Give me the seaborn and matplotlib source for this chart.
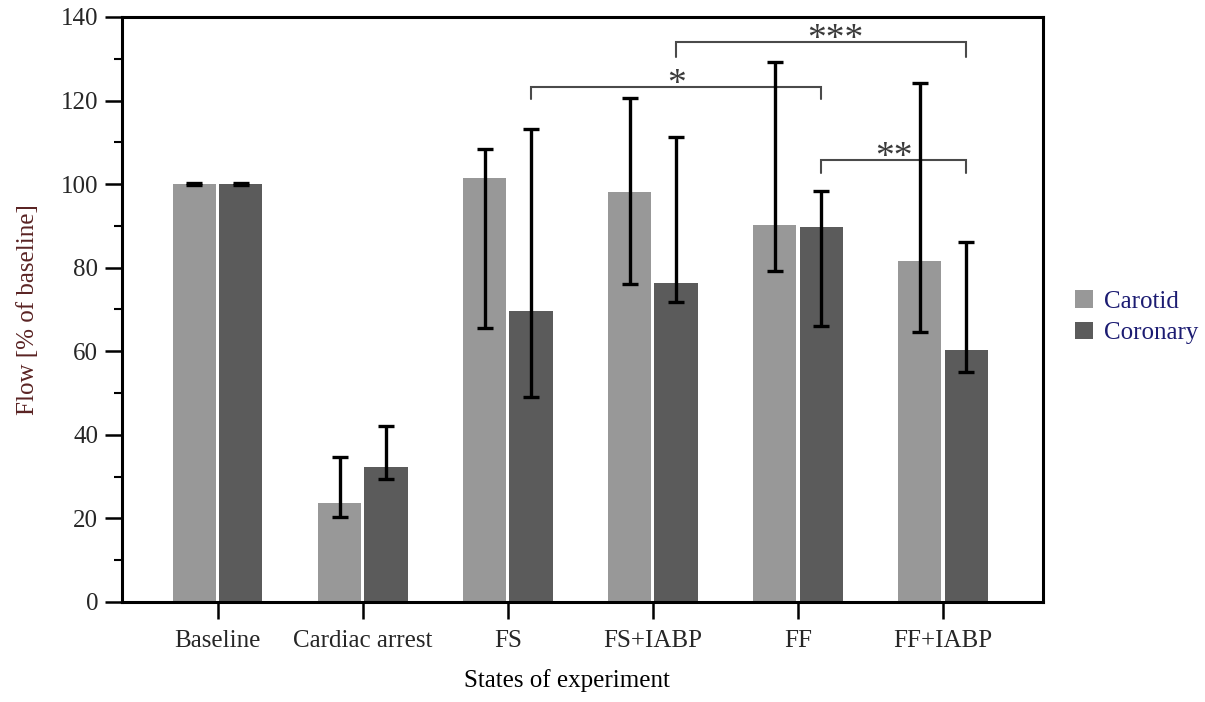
import numpy as np
import pandas as pd
import matplotlib
matplotlib.use("Agg")
import matplotlib.pyplot as plt
import seaborn as sns

# ---------------- data ----------------
categories = ["Baseline", "Cardiac arrest", "FS", "FS+IABP", "FF", "FF+IABP"]
series = ["Carotid", "Coronary"]

carotid_mean = [100.0, 23.6, 101.4, 98.0, 90.2, 81.7]
carotid_hi = [100.2, 34.6, 108.4, 120.7, 129.2, 124.2]
carotid_lo = [99.8, 20.3, 65.5, 76.1, 79.3, 64.5]

coronary_mean = [100.0, 32.4, 69.7, 76.4, 89.7, 60.3]
coronary_hi = [100.2, 42.1, 113.2, 111.2, 98.4, 86.1]
coronary_lo = [99.8, 29.4, 49.0, 71.7, 66.1, 55.0]

# significance brackets: (left category, right category, bar series, top y, leg drop, label)
brackets = [
    ("FS", "FF", "Coronary", 123.3, 3.0, "*"),
    ("FS+IABP", "FF+IABP", "Coronary", 134.0, 3.5, "***"),
    ("FF", "FF+IABP", "Coronary", 105.8, 3.2, "**"),
]

colors = {"Carotid": "#989898", "Coronary": "#5b5b5b"}

df = pd.DataFrame({
    "state": categories * 2,
    "series": ["Carotid"] * len(categories) + ["Coronary"] * len(categories),
    "flow": carotid_mean + coronary_mean,
})

# ---------------- style ----------------
sns.set_style("ticks")
plt.rcParams["font.family"] = ["Liberation Serif", "DejaVu Serif"]

fig = plt.figure(figsize=(12.05, 7.02), dpi=100)
ax = fig.add_axes([0.1012, 0.1425, 0.7644, 0.8333])

sns.barplot(data=df, x="state", y="flow", hue="series", order=categories,
            hue_order=series, palette=colors, width=0.64, gap=0.07,
            errorbar=None, linewidth=0, ax=ax, legend=True)

# error bars at bar centres
centers = {}
for cont, s, mean, hi, lo in zip(ax.containers, series,
                                  [carotid_mean, coronary_mean],
                                  [carotid_hi, coronary_hi],
                                  [carotid_lo, coronary_lo]):
    xs = np.array([b.get_x() + b.get_width() / 2 for b in cont])
    centers[s] = dict(zip(categories, xs))
    m = np.array(mean)
    yerr = np.vstack([m - np.array(lo), np.array(hi) - m])
    ax.errorbar(xs, m, yerr=yerr, fmt="none", ecolor="black",
                elinewidth=2.4, capsize=6, capthick=2.4, zorder=5)

# brackets
for left, right, s, ytop, drop, lab in brackets:
    x1 = centers[s][left]
    x2 = centers[s][right]
    ax.plot([x1, x1, x2, x2], [ytop - drop, ytop, ytop, ytop - drop],
            color="#4a4a4a", lw=1.5, zorder=4, solid_joinstyle="miter")
    xm = (x1 + x2) / 2 + (0.1 if lab == "***" else 0.0)
    ax.text(xm, ytop - 1.7, lab, ha="center", va="baseline",
            fontsize=27, color="#3a3a3a")

# axes
ax.set_xlim(-0.66, 5.69)
ax.set_ylim(0, 140)
ax.set_yticks(np.arange(0, 141, 20))
ax.set_yticks(np.arange(10, 140, 20), minor=True)

for sp in ax.spines.values():
    sp.set_visible(True)
    sp.set_linewidth(2.2)
    sp.set_color("black")

ax.tick_params(axis="both", which="major", direction="out", length=12,
               width=1.8, color="black", labelsize=18, pad=5)
ax.tick_params(axis="y", which="minor", direction="out", length=6,
               width=1.5, color="black")
ax.tick_params(axis="x", pad=8)

ax.set_xlabel("States of experiment", fontsize=18, color="black", labelpad=10)
ax.xaxis.set_label_coords(0.483, -0.115)
ax.set_ylabel("Flow [% of baseline]", fontsize=18, color="#5a2323", labelpad=16)

# legend
handles, labels = ax.get_legend_handles_labels()
ax.get_legend().remove()
leg = fig.legend(handles, labels, loc="center left",
                 bbox_to_anchor=(0.884, 0.548), frameon=False,
                 fontsize=18, handlelength=0.7, handleheight=0.7,
                 handletextpad=0.45, labelspacing=0.35, borderaxespad=0)
for t in leg.get_texts():
    t.set_color("#1c1c72")

fig.savefig("out.png", dpi=100)
